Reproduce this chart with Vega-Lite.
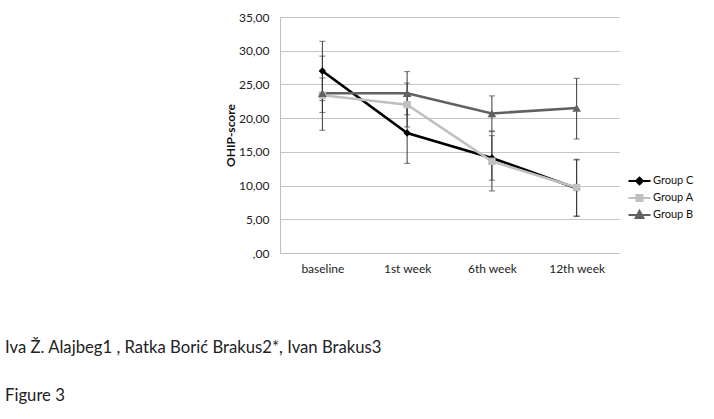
{
  "$schema": "https://vega.github.io/schema/vega-lite/v6.json",
  "autosize": "none",
  "width": 339,
  "height": 236,
  "padding": {"left": 280, "top": 17, "right": 95, "bottom": 166},
  "background": "white",
  "config": {
    "font": "Lato",
    "view": {"stroke": null},
    "axis": {"labelFont": "Lato", "titleFont": "Lato", "labelColor": "#222", "titleColor": "#111"},
    "axisY": {
      "titleFontSize": 12,
      "titleFontWeight": "bold",
      "titlePadding": 1,
      "labelFontSize": 12,
      "labelPadding": 11,
      "ticks": false,
      "domainColor": "#bfbfbf",
      "gridColor": "#c4c4c4",
      "gridWidth": 1
    }
  },
  "title": {
    "text": ["Iva Ž. Alajbeg1 , Ratka Borić Brakus2*, Ivan Brakus3", "Figure 3"],
    "orient": "bottom",
    "anchor": "start",
    "frame": "group",
    "dx": -275,
    "offset": 66,
    "fontSize": 16.7,
    "fontWeight": "normal",
    "lineHeight": 48,
    "color": "#222",
    "font": "Lato"
  },
  "data": {
    "values": [
      {"week": "baseline", "group": "Group C", "ord": 1, "mean": 27.0, "lo": 22.6, "hi": 31.4},
      {"week": "1st week", "group": "Group C", "ord": 1, "mean": 17.8, "lo": 13.3, "hi": 22.3},
      {"week": "6th week", "group": "Group C", "ord": 1, "mean": 14.1, "lo": 10.8, "hi": 17.4},
      {"week": "12th week", "group": "Group C", "ord": 1, "mean": 9.6, "lo": 5.4, "hi": 13.8},
      {"week": "baseline", "group": "Group A", "ord": 2, "mean": 23.4, "lo": 20.85, "hi": 25.95},
      {"week": "1st week", "group": "Group A", "ord": 2, "mean": 22.0, "lo": 18.7, "hi": 25.2},
      {"week": "6th week", "group": "Group A", "ord": 2, "mean": 13.6, "lo": 9.2, "hi": 18.0},
      {"week": "12th week", "group": "Group A", "ord": 2, "mean": 9.7, "lo": 5.5, "hi": 13.9},
      {"week": "baseline", "group": "Group B", "ord": 3, "mean": 23.7, "lo": 18.2, "hi": 29.2},
      {"week": "1st week", "group": "Group B", "ord": 3, "mean": 23.7, "lo": 20.5, "hi": 26.9},
      {"week": "6th week", "group": "Group B", "ord": 3, "mean": 20.7, "lo": 18.1, "hi": 23.3},
      {"week": "12th week", "group": "Group B", "ord": 3, "mean": 21.5, "lo": 16.9, "hi": 25.9}
    ]
  },
  "encoding": {
    "x": {
      "field": "week",
      "type": "ordinal",
      "sort": ["baseline", "1st week", "6th week", "12th week"],
      "scale": {"type": "point", "padding": 0.5},
      "axis": {
        "title": null,
        "labelAngle": 0,
        "labelFontSize": 12,
        "labelPadding": 10,
        "ticks": false,
        "domainColor": "#bfbfbf",
        "domainWidth": 1,
        "grid": false
      }
    }
  },
  "layer": [
    {
      "mark": {"type": "rule", "color": "#3a3a3a", "strokeWidth": 1},
      "encoding": {
        "y": {
          "field": "lo",
          "type": "quantitative",
          "scale": {"domain": [0, 35]},
          "axis": {"title": "OHIP-score", "values": [0, 5, 10, 15, 20, 25, 30, 35], "labelExpr": "datum.value == 0 ? ',00' : replace(format(datum.value, '.2f'), '.', ',')"}
        },
        "y2": {"field": "hi"},
        "detail": {"field": "group"}
      }
    },
    {
      "mark": {"type": "tick", "color": "#3a3a3a", "thickness": 1, "size": 6},
      "encoding": {
        "y": {
          "field": "lo",
          "type": "quantitative",
          "axis": {"title": "OHIP-score", "values": [0, 5, 10, 15, 20, 25, 30, 35], "labelExpr": "datum.value == 0 ? ',00' : replace(format(datum.value, '.2f'), '.', ',')"}
        }
      }
    },
    {
      "mark": {"type": "tick", "color": "#3a3a3a", "thickness": 1, "size": 6},
      "encoding": {
        "y": {
          "field": "hi",
          "type": "quantitative",
          "axis": {"title": "OHIP-score", "values": [0, 5, 10, 15, 20, 25, 30, 35], "labelExpr": "datum.value == 0 ? ',00' : replace(format(datum.value, '.2f'), '.', ',')"}
        }
      }
    },
    {
      "mark": {"type": "line", "strokeWidth": 2.6},
      "encoding": {
        "y": {
          "field": "mean",
          "type": "quantitative",
          "axis": {"title": "OHIP-score", "values": [0, 5, 10, 15, 20, 25, 30, 35], "labelExpr": "datum.value == 0 ? ',00' : replace(format(datum.value, '.2f'), '.', ',')"}
        },
        "color": {
          "field": "group",
          "type": "nominal",
          "scale": {"domain": ["Group C", "Group A", "Group B"], "range": ["#000000", "#c0c0c0", "#616161"]},
          "legend": {
            "title": null,
            "orient": "none",
            "legendX": 350.5,
            "legendY": 155,
            "labelFont": "Lato",
            "labelFontSize": 11,
            "labelColor": "#111",
            "labelOffset": 4.5,
            "symbolSize": 225,
            "rowPadding": 0,
            "encode": {
              "symbols": {
                "update": {
                  "shape": {"signal": "datum.value === 'Group C' ? 'M-1.47,0H1.47M0,-0.44L0.44,0L0,0.44L-0.44,0Z' : datum.value === 'Group A' ? 'M-1.47,0H1.47M-0.4,-0.4H0.4V0.4H-0.4Z' : 'M-1.47,0H1.47M0,-0.53L0.5,0.38L-0.5,0.38Z'"},
                  "fill": {"scale": "color", "field": "value"},
                  "stroke": {"scale": "color", "field": "value"},
                  "strokeWidth": {"value": 2.2},
                  "fillOpacity": {"value": 1},
                  "opacity": {"value": 1}
                }
              }
            }
          }
        },
        "order": {"field": "ord"},
        "detail": {"field": "ord"}
      }
    },
    {
      "transform": [{"filter": "datum.group === 'Group C'"}],
      "mark": {"type": "point", "filled": true, "opacity": 1, "shape": "diamond", "size": 55},
      "encoding": {
        "y": {"field": "mean", "type": "quantitative", "axis": {"title": "OHIP-score", "values": [0, 5, 10, 15, 20, 25, 30, 35], "labelExpr": "datum.value == 0 ? ',00' : replace(format(datum.value, '.2f'), '.', ',')"}},
        "color": {"field": "group", "type": "nominal"}
      }
    },
    {
      "transform": [{"filter": "datum.group === 'Group A'"}],
      "mark": {"type": "point", "filled": true, "opacity": 1, "shape": "square", "size": 55},
      "encoding": {
        "y": {"field": "mean", "type": "quantitative", "axis": {"title": "OHIP-score", "values": [0, 5, 10, 15, 20, 25, 30, 35], "labelExpr": "datum.value == 0 ? ',00' : replace(format(datum.value, '.2f'), '.', ',')"}},
        "color": {"field": "group", "type": "nominal"}
      }
    },
    {
      "transform": [{"filter": "datum.group === 'Group B'"}],
      "mark": {"type": "point", "filled": true, "opacity": 1, "shape": "triangle-up", "size": 75},
      "encoding": {
        "y": {"field": "mean", "type": "quantitative", "axis": {"title": "OHIP-score", "values": [0, 5, 10, 15, 20, 25, 30, 35], "labelExpr": "datum.value == 0 ? ',00' : replace(format(datum.value, '.2f'), '.', ',')"}},
        "color": {"field": "group", "type": "nominal"}
      }
    }
  ]
}
